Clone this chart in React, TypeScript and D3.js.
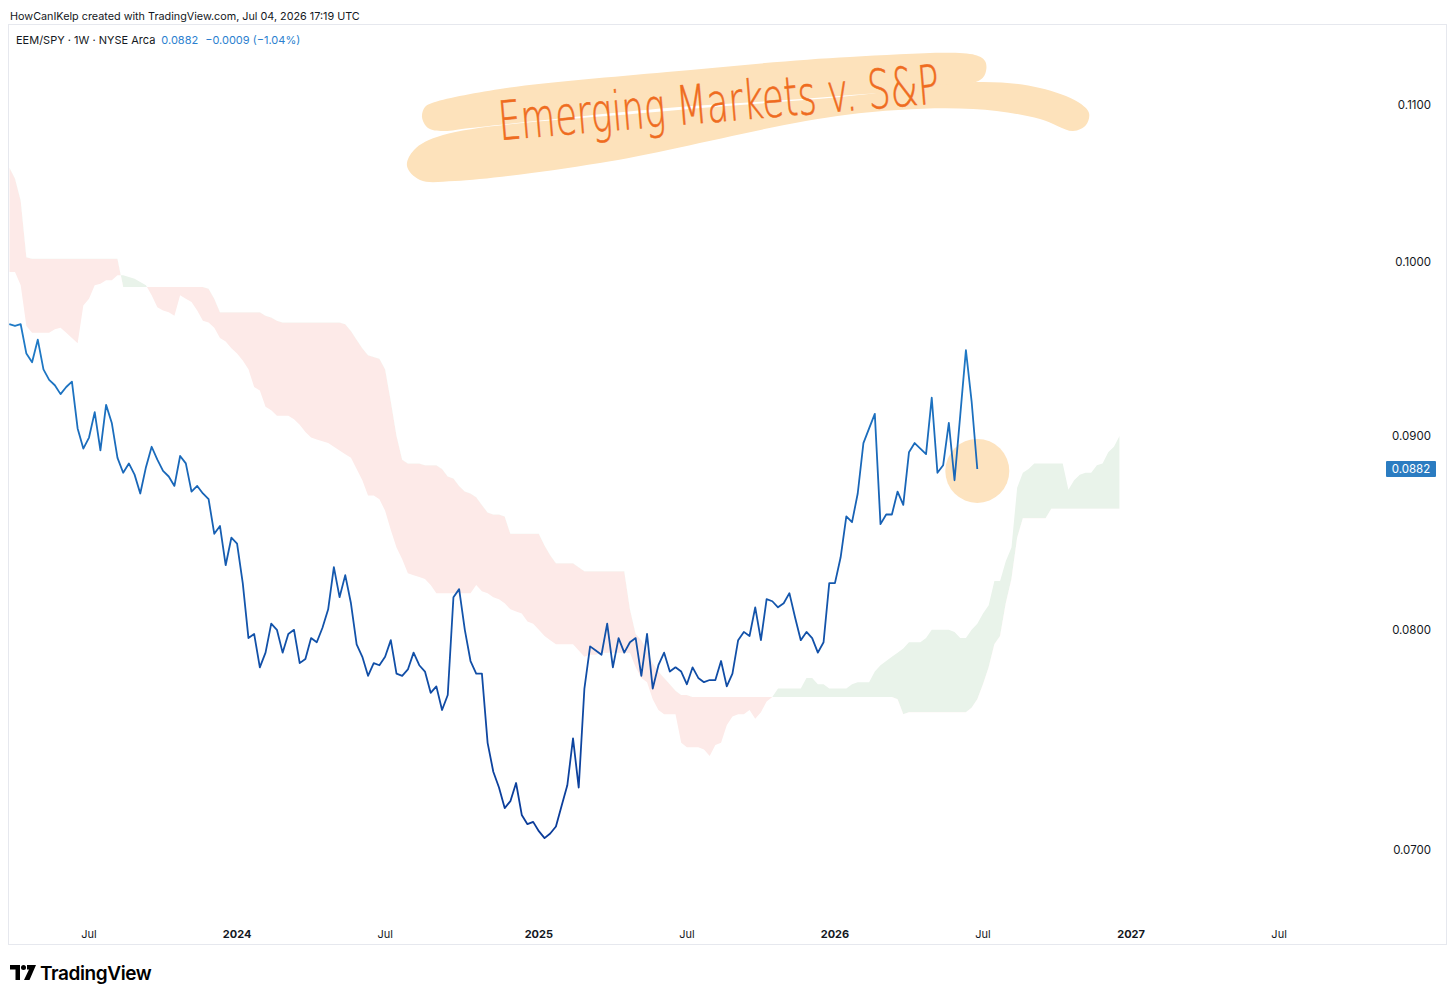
import * as d3 from "d3";

// weekly EEM/SPY closes, first bar = week of 2023-03-27
const WEEK0 = Date.UTC(2023, 2, 27);
const WEEK_MS = 7 * 24 * 3600 * 1000;

const closes = [
  0.0963, 0.0962, 0.0963, 0.0946, 0.0941, 0.0954, 0.0937, 0.0931, 0.0928, 0.0923,
  0.0927, 0.093, 0.0904, 0.0893, 0.0899, 0.0913, 0.0892, 0.0917, 0.0907, 0.0888,
  0.088, 0.0885, 0.0879, 0.0869, 0.0883, 0.0894, 0.0887, 0.0881, 0.0878, 0.0873,
  0.0889, 0.0885, 0.087, 0.0873, 0.0869, 0.0866, 0.0848, 0.0852, 0.0832, 0.0846,
  0.0843, 0.0823, 0.0796, 0.0798, 0.0782, 0.0789, 0.0803, 0.08, 0.0789, 0.0798,
  0.08, 0.0784, 0.0786, 0.0796, 0.0794, 0.0801, 0.081, 0.0831, 0.0816, 0.0827,
  0.0813, 0.0793, 0.0787, 0.0778, 0.0784, 0.0783, 0.0787, 0.0795, 0.0779, 0.0778,
  0.0781, 0.0789, 0.0783, 0.078, 0.077, 0.0773, 0.0762, 0.0769, 0.0816, 0.082,
  0.08, 0.0785, 0.0779, 0.0779, 0.0747, 0.0734, 0.0727, 0.0718, 0.0721, 0.0729,
  0.0715, 0.0711, 0.0712, 0.0708, 0.0705, 0.0707, 0.071, 0.0719, 0.0728, 0.0749,
  0.0727, 0.0772, 0.0792, 0.079, 0.0788, 0.0803, 0.0782, 0.0796, 0.0789, 0.0794,
  0.0796, 0.0778, 0.0798, 0.0772, 0.0783, 0.0789, 0.078, 0.0782, 0.078, 0.0774,
  0.0782, 0.0777, 0.0775, 0.0776, 0.0776, 0.0785, 0.0773, 0.0779, 0.0795, 0.0799,
  0.0797, 0.0811, 0.0795, 0.0815, 0.0814, 0.0811, 0.0813, 0.0818, 0.0806, 0.0795,
  0.0799, 0.0796, 0.0789, 0.0794, 0.0823, 0.0823, 0.0836, 0.0857, 0.0854, 0.0869,
  0.0896, 0.0904, 0.0912, 0.0853, 0.0858, 0.0858, 0.087, 0.0863, 0.0891, 0.0896,
  0.0893, 0.089, 0.0921, 0.088, 0.0884, 0.0907, 0.0876, 0.0911, 0.0948, 0.0919,
  0.0882,
];

// ichimoku leading spans, already displaced 26 weeks (same first week as closes)
const spanA = [
  0.0994, 0.0994, 0.0986, 0.0962, 0.0958, 0.0958, 0.0958, 0.0958, 0.096, 0.0961,
  0.0958, 0.0955, 0.0952, 0.0974, 0.0978, 0.0986, 0.0987, 0.0989, 0.0989, 0.0992,
  0.0992, 0.0991, 0.099, 0.0988, 0.0986, 0.098, 0.0973, 0.0971, 0.097, 0.0968,
  0.098, 0.0978, 0.0976, 0.0971, 0.0965, 0.0964, 0.0961, 0.0955, 0.0953, 0.0949,
  0.0946, 0.0942, 0.0937, 0.0927, 0.0925, 0.0916, 0.0914, 0.0911, 0.0911, 0.0911,
  0.0909, 0.0906, 0.0902, 0.0899, 0.0898, 0.0897, 0.0896, 0.0894, 0.0892, 0.089,
  0.0888, 0.0882, 0.0876, 0.0868, 0.0868, 0.0866, 0.086, 0.085, 0.0841, 0.0835,
  0.0828, 0.0827, 0.0826, 0.0825, 0.0822, 0.0818, 0.0818, 0.0818, 0.0818, 0.0818,
  0.0818, 0.0818, 0.0822, 0.0819, 0.0818, 0.0816, 0.0815, 0.0813, 0.081, 0.0809,
  0.0808, 0.0804, 0.0803, 0.08, 0.0797, 0.0795, 0.0793, 0.0793, 0.0793, 0.0793,
  0.079, 0.0787, 0.0788, 0.0788, 0.0789, 0.0789, 0.0789, 0.0789, 0.0789, 0.0789,
  0.0782, 0.0777, 0.0775, 0.0767, 0.0762, 0.076, 0.076, 0.076, 0.0747, 0.0745,
  0.0745, 0.0745, 0.0744, 0.0741, 0.0746, 0.0747, 0.0755, 0.0759, 0.076, 0.076,
  0.0762, 0.0758, 0.0761, 0.0766, 0.0768, 0.0772, 0.0772, 0.0772, 0.0772, 0.0772,
  0.0777, 0.0777, 0.0774, 0.0774, 0.0772, 0.0772, 0.0772, 0.0772, 0.0774, 0.0775,
  0.0775, 0.0775, 0.078, 0.0783, 0.0785, 0.0787, 0.0789, 0.0791, 0.0794, 0.0794,
  0.0794, 0.0796, 0.08, 0.08, 0.08, 0.08, 0.0799, 0.0796, 0.0796, 0.08,
  0.0803, 0.0808, 0.0812, 0.0824, 0.0824, 0.0834, 0.0841, 0.0872, 0.088, 0.0882,
  0.0885, 0.0885, 0.0885, 0.0885, 0.0885, 0.0885, 0.0871, 0.0876, 0.0879, 0.088,
  0.088, 0.0884, 0.0885, 0.0891, 0.0894, 0.09,
];

const spanB = [
  0.1059, 0.1052, 0.1038, 0.1003, 0.1002, 0.1002, 0.1002, 0.1002, 0.1002, 0.1002,
  0.1002, 0.1002, 0.1002, 0.1002, 0.1002, 0.1002, 0.1002, 0.1002, 0.1002, 0.1002,
  0.0985, 0.0985, 0.0985, 0.0985, 0.0985, 0.0985, 0.0985, 0.0985, 0.0985, 0.0985,
  0.0985, 0.0985, 0.0985, 0.0985, 0.0985, 0.0984, 0.0978, 0.097, 0.097, 0.097,
  0.097, 0.097, 0.097, 0.097, 0.097, 0.0968, 0.0967, 0.0965, 0.0964, 0.0964,
  0.0964, 0.0964, 0.0964, 0.0964, 0.0964, 0.0964, 0.0964, 0.0964, 0.0964, 0.0963,
  0.0959, 0.0954, 0.0949, 0.0945, 0.0944, 0.0943, 0.0937, 0.0919, 0.09, 0.0887,
  0.0885, 0.0885, 0.0885, 0.0884, 0.0884, 0.0884, 0.0882, 0.0878, 0.0877, 0.0873,
  0.087, 0.0869, 0.0867, 0.0863, 0.0859, 0.0858, 0.0858, 0.0857, 0.0848, 0.0848,
  0.0848, 0.0848, 0.0848, 0.0848, 0.0842, 0.0837, 0.0833, 0.0833, 0.0833, 0.0833,
  0.0831, 0.0829, 0.0829, 0.0829, 0.0829, 0.0829, 0.0829, 0.0829, 0.0829, 0.081,
  0.0798, 0.0795, 0.079, 0.0784, 0.078, 0.0777, 0.0774, 0.0771, 0.0769, 0.0769,
  0.0768, 0.0768, 0.0768, 0.0768, 0.0768, 0.0768, 0.0768, 0.0768, 0.0768, 0.0768,
  0.0768, 0.0768, 0.0768, 0.0768, 0.0768, 0.0768, 0.0768, 0.0768, 0.0768, 0.0768,
  0.0768, 0.0768, 0.0768, 0.0768, 0.0768, 0.0768, 0.0768, 0.0768, 0.0768, 0.0768,
  0.0768, 0.0768, 0.0768, 0.0768, 0.0768, 0.0768, 0.0767, 0.076, 0.0761, 0.0761,
  0.0761, 0.0761, 0.0761, 0.0761, 0.0761, 0.0761, 0.0761, 0.0761, 0.0761, 0.0763,
  0.0767, 0.0774, 0.0782, 0.0793, 0.0797, 0.0813, 0.0825, 0.0846, 0.0856, 0.0856,
  0.0856, 0.0856, 0.0856, 0.0861, 0.0861, 0.0861, 0.0861, 0.0861, 0.0861, 0.0861,
  0.0861, 0.0861, 0.0861, 0.0861, 0.0861, 0.0861,
];

const priceTicks = [0.07, 0.08, 0.09, 0.1, 0.11];
const symbolLine = "EEM/SPY · 1W · NYSE Arca";
const lastChange = "−0.0009 (−1.04%)";
const watermark = "HowCanIKelp created with TradingView.com, Jul 04, 2026 17:19 UTC";
const noteText = "Emerging Markets v. S&P";

const W = 1456;
const H = 1000;
const plot = { left: 8, right: 1385, top: 25, bottom: 920 };
const UI_FONT = "Inter, 'Noto Sans', 'Liberation Sans', sans-serif";
const TEXT = "#131722";
const BLUE = "#2b7fcf";

// marker-highlighter strokes behind the handwritten note
const hlTop: [number, number][] = [
  [432, 103], [500, 89], [667, 72], [850, 57], [975, 55], [985, 61], [986, 71],
  [980, 80], [840, 96], [667, 108], [470, 128], [443, 131], [428, 128], [422, 117], [425, 107],
];
const hlLow: [number, number][] = [
  [414, 150], [443, 135], [667, 111], [840, 97], [983, 82], [1040, 88], [1078, 102],
  [1089, 113], [1086, 125], [1073, 131], [1040, 119], [973, 109], [845, 115], [600, 163],
  [455, 181], [420, 180], [407, 166],
];

export default function App() {
  const weekDate = (i: number) => new Date(WEEK0 + i * WEEK_MS);

  const x = d3
    .scaleUtc()
    .domain([weekDate(0), weekDate(closes.length - 1)])
    .range([9.3, 977.3]);
  const y = d3.scaleLog().domain([0.07, 0.11]).range([849.9, 105]);

  const cloudIdx = d3.range(spanA.length);
  const cloudArea = d3
    .area<number>()
    .x((i) => x(weekDate(i)))
    .y0((i) => y(spanA[i]))
    .y1((i) => y(spanB[i]));
  const aboveB = d3
    .area<number>()
    .x((i) => x(weekDate(i)))
    .y0(0)
    .y1((i) => y(spanB[i]));
  const belowB = d3
    .area<number>()
    .x((i) => x(weekDate(i)))
    .y0(H)
    .y1((i) => y(spanB[i]));

  const priceLine = d3
    .line<number>()
    .x((_d, i) => x(weekDate(i)))
    .y((d) => y(d));

  // TradingView puts month labels on the first weekly bar of the month
  const monthTicks = d3
    .utcMonth.every(6)!
    .range(x.invert(plot.left), x.invert(plot.right))
    .map((t) => ({ t, pos: x(d3.utcMonday.ceil(t)) }));

  const lastIdx = closes.length - 1;
  const last = closes[lastIdx];
  const fmt = d3.format(".4f");

  const blob = d3
    .line<[number, number]>()
    .curve(d3.curveCatmullRomClosed.alpha(0.5));

  return (
    <svg
      width={W}
      height={H}
      style={{ position: "absolute", left: 0, top: 0, background: "#fff" }}
      fontFamily={UI_FONT}
    >
      <defs>
        <clipPath id="plotClip">
          <rect
            x={plot.left}
            y={plot.top}
            width={plot.right - plot.left}
            height={plot.bottom - plot.top}
          />
        </clipPath>
        <clipPath id="aboveB">
          <path d={aboveB(cloudIdx) ?? ""} />
        </clipPath>
        <clipPath id="belowB">
          <path d={belowB(cloudIdx) ?? ""} />
        </clipPath>
        <linearGradient id="lineGrad" gradientUnits="userSpaceOnUse" x1="0" y1="340" x2="0" y2="840">
          <stop offset="0" stopColor="#1f7ac6" />
          <stop offset="0.5" stopColor="#1457ad" />
          <stop offset="1" stopColor="#0a3a98" />
        </linearGradient>
      </defs>

      <rect x={0} y={0} width={W} height={H} fill="#fff" />

      <text x={10} y={20} fontSize={10.8} fill={TEXT}>
        {watermark}
      </text>

      {/* chart frame */}
      <rect x={8.5} y={24.5} width={1438} height={920} fill="none" stroke="#e6e8ee" />

      <text x={16} y={44} fontSize={11} fill={TEXT}>
        {symbolLine}
        <tspan fill={BLUE} dx={6}>
          {fmt(last)}
        </tspan>
        <tspan fill={BLUE} dx={7}>
          {lastChange}
        </tspan>
      </text>

      <g clipPath="url(#plotClip)">
        <g clipPath="url(#belowB)">
          <path d={cloudArea(cloudIdx) ?? ""} fill="#fdeae8" />
        </g>
        <g clipPath="url(#aboveB)">
          <path d={cloudArea(cloudIdx) ?? ""} fill="#e9f3ea" />
        </g>

        <circle cx={x(weekDate(lastIdx))} cy={y(0.0881)} r={32} fill="#fde3bf" />

        <path
          d={priceLine(closes) ?? ""}
          fill="none"
          stroke="url(#lineGrad)"
          strokeWidth={1.8}
          strokeLinejoin="round"
        />
      </g>

      {/* handwritten note */}
      <path d={blob(hlTop) ?? ""} fill="#fde2bb" />
      <path d={blob(hlLow) ?? ""} fill="#fde2bb" />
      <text
        x={500}
        y={140}
        transform="rotate(-4.8 500 140)"
        fontSize={54}
        fontFamily="'DejaVu Sans', sans-serif"
        fontWeight={200}
        fill="#ef6c1f"
        stroke="#ef6c1f"
        strokeWidth={0.6}
        textLength={442}
        lengthAdjust="spacingAndGlyphs"
      >
        {noteText}
      </text>

      {/* price scale */}
      {priceTicks.map((p) => (
        <text
          key={p}
          x={1431}
          y={y(p)}
          dy="0.35em"
          textAnchor="end"
          fontSize={11.5}
          fill={TEXT}
        >
          {fmt(p)}
        </text>
      ))}
      <rect x={1386} y={y(last) - 8} width={50} height={16} fill="#2b7cc1" rx={1} />
      <text
        x={1411}
        y={y(last)}
        dy="0.35em"
        textAnchor="middle"
        fontSize={11.5}
        fill="#fff"
      >
        {fmt(last)}
      </text>

      {/* time scale */}
      {monthTicks.map(({ t, pos }) => {
        const isYear = t.getUTCMonth() === 0;
        return (
          <text
            key={t.toISOString()}
            x={pos}
            y={934}
            dy="0.35em"
            textAnchor="middle"
            fontSize={11}
            fontWeight={isYear ? 700 : 400}
            fill={TEXT}
          >
            {isYear ? d3.utcFormat("%Y")(t) : d3.utcFormat("%b")(t)}
          </text>
        );
      })}

      {/* TradingView logo */}
      <g fill="#000">
        <path d="M10 965 h10 v15 h-4.5 v-10.5 h-5.5 z" />
        <circle cx={23.5} cy={967.5} r={2.5} />
        <path d="M27 965 h9 l-6.5 15 h-5.5 l5 -10.5 h-2 z" />
      </g>
      <text x={40} y={980} fontSize={19} fontWeight={600} fill="#000" letterSpacing={-0.4}>
        TradingView
      </text>
    </svg>
  );
}
